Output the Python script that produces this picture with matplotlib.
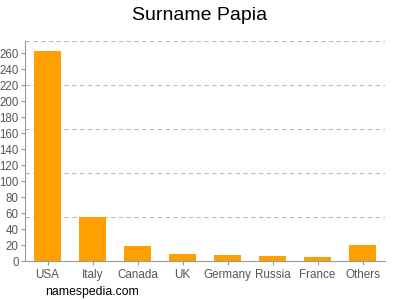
import matplotlib
matplotlib.use("Agg")
import matplotlib.pyplot as plt

plt.rcParams["font.family"] = ["Liberation Sans", "DejaVu Sans"]

categories = ["USA", "Italy", "Canada", "UK", "Germany", "Russia", "France", "Others"]
values = [262, 55, 19, 9, 8, 6, 5, 20]
yticks = list(range(0, 261, 20))
grid_levels = [55, 110, 165, 220, 275]

fig = plt.figure(figsize=(4, 3), dpi=100)
ax = fig.add_axes([0.0625, 0.13, 0.9, 0.733])
x = range(len(categories))
ax.bar(x, values, width=0.62, color="#FFA000", zorder=2)
ax.set_xlim(-0.5, len(categories) - 0.5)
ax.set_ylim(0, 275)
ax.set_yticks(yticks)
ax.set_xticks(list(x))
ax.set_xticklabels(categories)
for g in grid_levels:
    ax.axhline(g, color="#BBBBBB", linestyle=(0, (4, 3)), linewidth=0.8, zorder=1)
for s in ["top", "right"]:
    ax.spines[s].set_visible(False)
for s in ["left", "bottom"]:
    ax.spines[s].set_color("#999999")
    ax.spines[s].set_linewidth(0.8)
ax.tick_params(axis="both", colors="#999999", labelcolor="#555555", length=3, width=0.8)
ax.tick_params(axis="y", labelsize=8.3, pad=1.5)
ax.tick_params(axis="x", labelsize=8.4, pad=3)
fig.text(0.5, 0.95, "Surname Papia", ha="center", va="center", fontsize=14, color="#000000")
fig.text(0.113, 0.027, "namespedia.com", ha="left", va="center", fontsize=8.8, color="#000000")
fig.savefig("out.png", dpi=100)
